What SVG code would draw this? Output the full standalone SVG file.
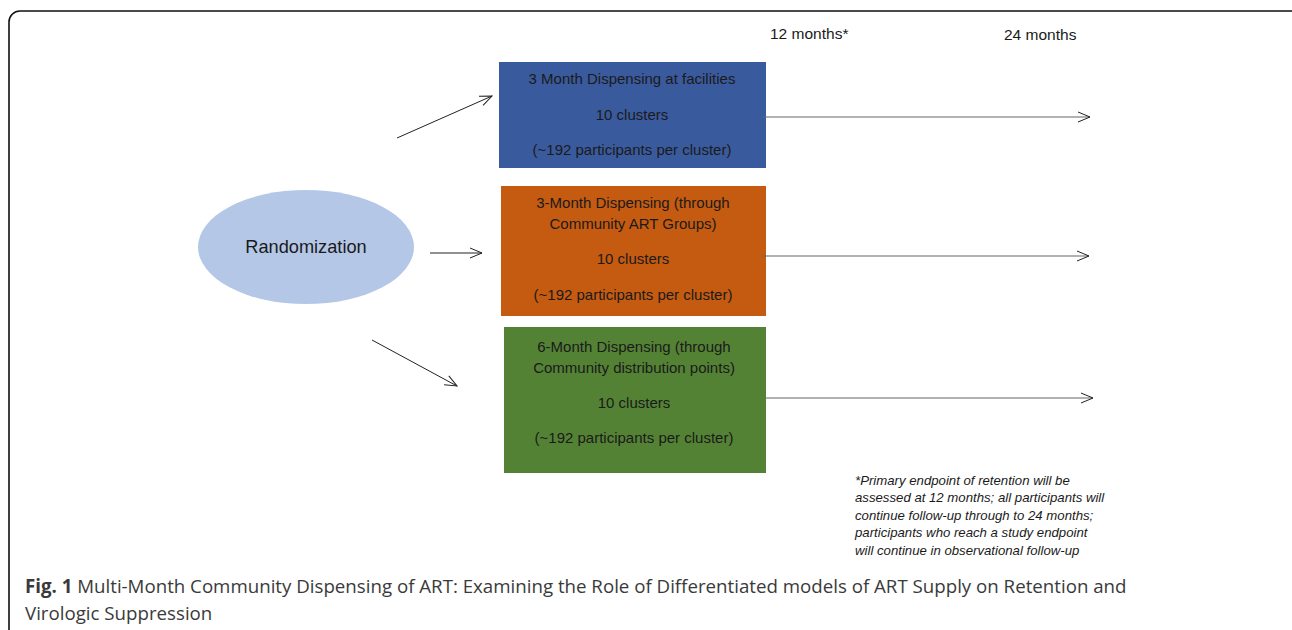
<svg xmlns="http://www.w3.org/2000/svg" width="1292" height="630" viewBox="0 0 1292 630">
<style>
.t{font-family:"Liberation Sans",Arial,sans-serif;font-size:15px;fill:#1a1a1a;text-anchor:middle}
.lab{font-family:"Liberation Sans",Arial,sans-serif;font-size:15.5px;fill:#1a1a1a}
.fn{font-family:"Liberation Sans",Arial,sans-serif;font-size:13.2px;font-style:italic;fill:#1a1a1a}
.cap{font-family:"Open Sans","Liberation Sans",sans-serif;font-size:18.7px;fill:#3a3a3a}
.c{stroke:#222;stroke-width:1;fill:none}
.g{stroke:#666;stroke-width:1.2;fill:none}
</style>
<defs>
<marker id="ah" markerWidth="14" markerHeight="12" refX="13" refY="6" orient="auto" markerUnits="userSpaceOnUse">
<path d="M1,1 L13,6 L1,11" fill="none" stroke="#222" stroke-width="1"/>
</marker>
</defs>
<rect x="0" y="0" width="1292" height="630" fill="#fff"/>
<rect x="9" y="11" width="1295" height="650" rx="11" fill="none" stroke="#111" stroke-width="1.6"/>
<text class="lab" x="770" y="39">12 months*</text>
<text class="lab" x="1004" y="40">24 months</text>
<g id="randomization">
<ellipse cx="306" cy="247" rx="108" ry="57" fill="#B4C7E7"/>
<text class="t" x="306" y="253" style="font-size:18.2px">Randomization</text>
</g>
<g id="arm1">
<rect x="499" y="62" width="267" height="106" fill="#3A5A9E"/>
<text class="t" x="632" y="84">3 Month Dispensing at facilities</text>
<text class="t" x="632" y="120">10 clusters</text>
<text class="t" x="632" y="155">(~192 participants per cluster)</text>
</g>
<g id="arm2">
<rect x="501" y="186" width="265" height="130" fill="#C55A11"/>
<text class="t" x="633" y="208">3-Month Dispensing (through</text>
<text class="t" x="633" y="229">Community ART Groups)</text>
<text class="t" x="633" y="264">10 clusters</text>
<text class="t" x="633" y="300">(~192 participants per cluster)</text>
</g>
<g id="arm3">
<rect x="504" y="327" width="262" height="146" fill="#548235"/>
<text class="t" x="634" y="352">6-Month Dispensing (through</text>
<text class="t" x="634" y="373">Community distribution points)</text>
<text class="t" x="634" y="408">10 clusters</text>
<text class="t" x="634" y="443">(~192 participants per cluster)</text>
</g>
<g id="connectors">
<line class="c" x1="397" y1="138" x2="492" y2="96" marker-end="url(#ah)"/>
<line class="c" x1="430" y1="253" x2="482" y2="253" marker-end="url(#ah)"/>
<line class="c" x1="372" y1="340" x2="457" y2="386" marker-end="url(#ah)"/>
<line class="g" x1="763" y1="117" x2="1090" y2="117" marker-end="url(#ah)"/>
<line class="g" x1="762" y1="256" x2="1089" y2="256" marker-end="url(#ah)"/>
<line class="g" x1="766" y1="398" x2="1093" y2="398" marker-end="url(#ah)"/>
</g>
<g id="footnote">
<text class="fn" x="855" y="485">*Primary endpoint of retention will be</text>
<text class="fn" x="855" y="502">assessed at 12 months; all participants will</text>
<text class="fn" x="855" y="520">continue follow-up through to 24 months;</text>
<text class="fn" x="855" y="537">participants who reach a study endpoint</text>
<text class="fn" x="855" y="555">will continue in observational follow-up</text>
</g>
<g id="caption">
<text class="cap" x="25" y="593"><tspan font-weight="bold">Fig. 1</tspan> Multi-Month Community Dispensing of ART: Examining the Role of Differentiated models of ART Supply on Retention and</text>
<text class="cap" x="25" y="620">Virologic Suppression</text>
</g>
</svg>
